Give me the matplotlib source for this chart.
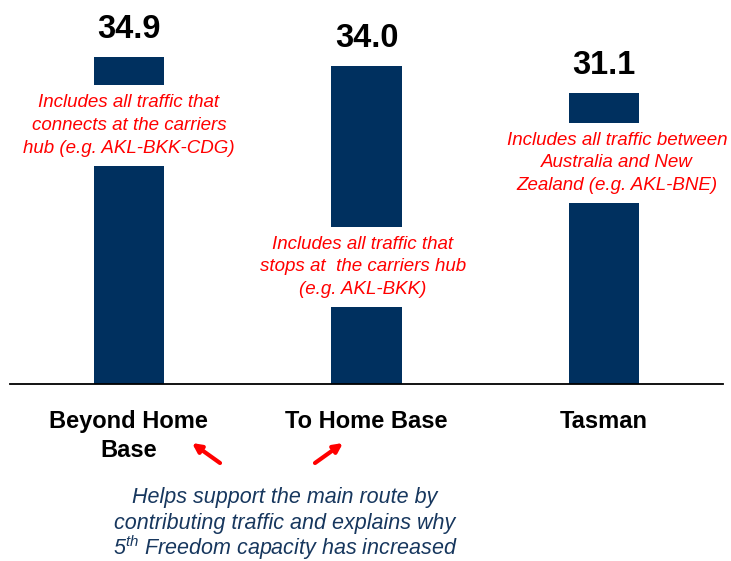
import matplotlib
matplotlib.use("Agg")
import matplotlib.pyplot as plt

plt.rcParams['font.family'] = ['Liberation Sans', 'DejaVu Sans']
plt.rcParams['mathtext.fontset'] = 'custom'
plt.rcParams['mathtext.it'] = 'Liberation Sans:italic'
plt.rcParams['mathtext.rm'] = 'Liberation Sans:italic'

categories = ["Beyond Home\nBase", "To Home Base", "Tasman"]
values = [34.9, 34.0, 31.1]
notes = [
    "Includes all traffic that\nconnects at the carriers\nhub (e.g. AKL-BKK-CDG)",
    "Includes all traffic that\nstops at  the carriers hub\n(e.g. AKL-BKK)",
    "Includes all traffic between\nAustralia and New\nZealand (e.g. AKL-BNE)",
]
note_x = [0.0, 0.985, 2.054]
note_y = [27.6, 12.5, 23.6]
footnote = ["Helps support the main route by",
            "contributing traffic and explains why",
            r"$5^{th}$ Freedom capacity has increased"]

bar_color = "#00305F"
navy_text = "#17375E"

fig = plt.figure(figsize=(7.31, 5.61), dpi=100)
W, H = 731, 561
ax = fig.add_axes([10 / W, (H - 384) / H, 713 / W, 384 / H])

x = range(len(categories))
bars = ax.bar(x, values, width=0.295, color=bar_color, zorder=2)

# value labels above each bar
for xi, v in zip(x, values):
    ax.annotate(f"{v:.1f}", xy=(xi, v), xytext=(0, 13.5), textcoords="offset points",
                ha="center", va="baseline", fontsize=23.5, fontweight="bold")

# explanatory notes sitting on white boxes across the bars
for nx, ny, txt in zip(note_x, note_y, notes):
    ax.text(nx, ny, txt, ha="center", va="center", color="red", fontsize=13.5,
            style="italic", linespacing=1.45, zorder=3,
            bbox=dict(facecolor="white", edgecolor="none", pad=6.5))

ax.set_xlim(-0.5, 2.5)
ax.set_ylim(0, 41.0)
ax.set_xticks(list(x))
ax.set_xticklabels(categories, fontsize=17, fontweight="bold", linespacing=1.3)
ax.tick_params(axis="x", length=0, pad=19)
ax.set_yticks([])
for side in ["top", "right", "left"]:
    ax.spines[side].set_visible(False)
ax.spines["bottom"].set_linewidth(1.3)
ax.spines["bottom"].set_zorder(4)

# arrows pointing at the first two categories
for tail, tip in [((220, 98), (192, 118)), ((315, 98), (343, 118))]:
    ax.annotate("", xy=tip, xytext=tail, xycoords="figure pixels",
                textcoords="figure pixels", annotation_clip=False,
                arrowprops=dict(arrowstyle="-|>", color="red", lw=3,
                                mutation_scale=13, shrinkA=0, shrinkB=0))

for line, base in zip(footnote, [503, 529, 555]):
    fig.text(285 / W, 1 - base / H, line, ha="center", va="baseline",
             color=navy_text, fontsize=15.5, style="italic")

fig.savefig("out.png", dpi=100)
